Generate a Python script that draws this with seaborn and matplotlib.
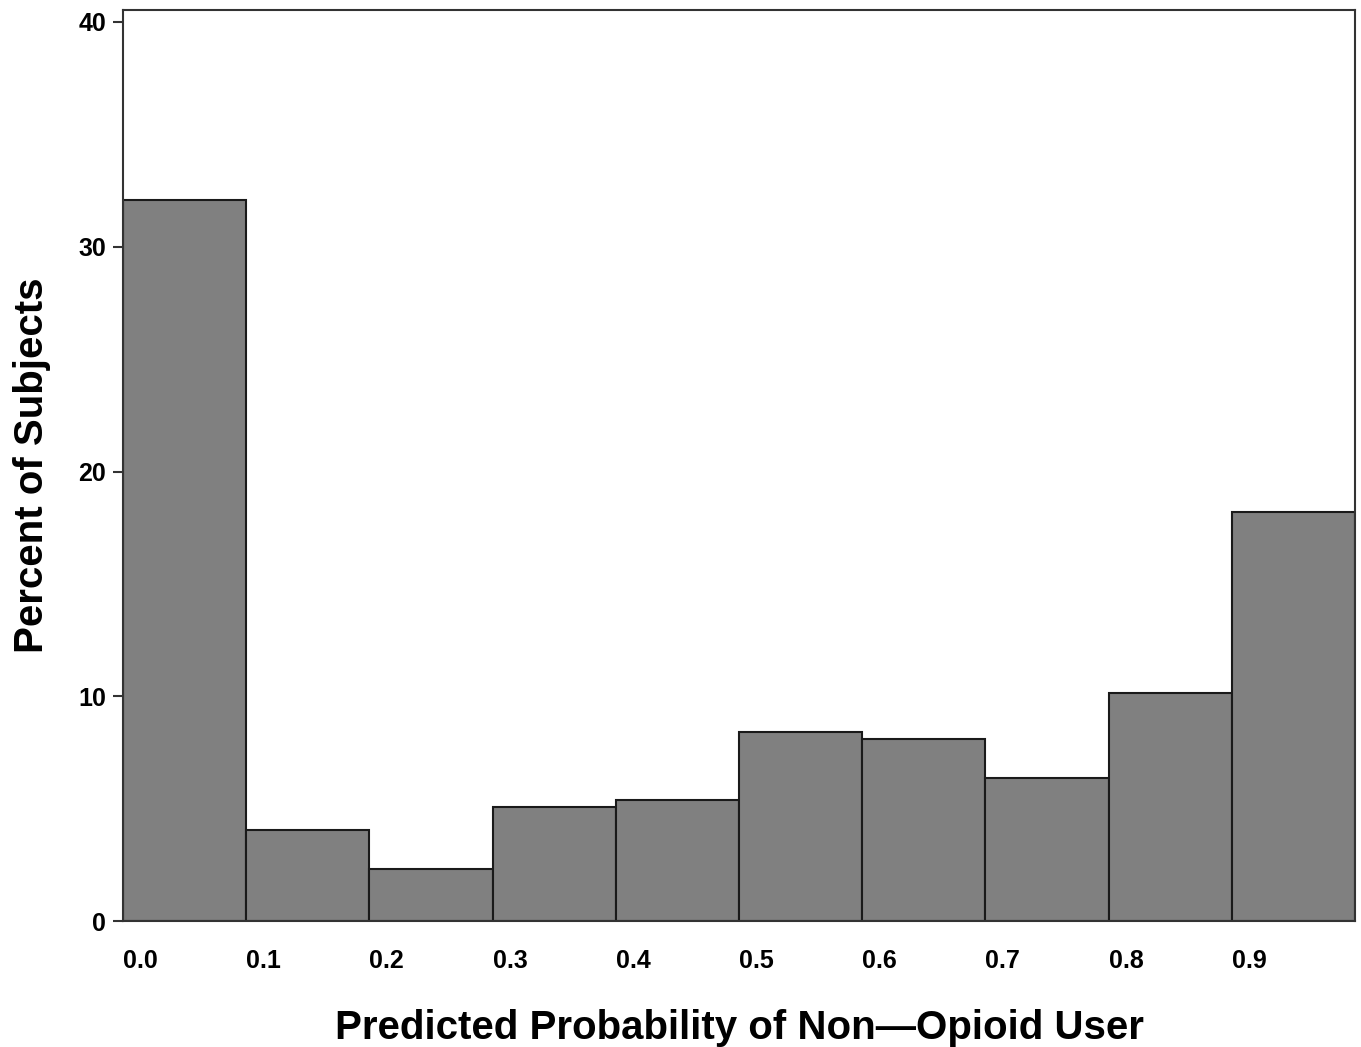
import numpy as np
import pandas as pd
import matplotlib
matplotlib.use("Agg")
import matplotlib.pyplot as plt
import seaborn as sns

bin_starts = [0.0, 0.1, 0.2, 0.3, 0.4, 0.5, 0.6, 0.7, 0.8, 0.9]
percent = [32.1, 4.05, 2.3, 5.08, 5.39, 8.42, 8.1, 6.37, 10.16, 18.2]
x_tick_labels = ["0.0", "0.1", "0.2", "0.3", "0.4", "0.5", "0.6", "0.7", "0.8", "0.9"]
y_ticks = [0, 10, 20, 30, 40]

sns.set_theme(style="white")
plt.rcParams['font.family'] = ['Liberation Sans', 'DejaVu Sans']

df = pd.DataFrame({"mid": np.array(bin_starts) + 0.05, "pct": percent})
edges = list(bin_starts) + [1.0]

fig = plt.figure(figsize=(13.61, 10.47), dpi=100)
ax = fig.add_axes([0.0904, 0.1203, 0.9052, 0.8701])
sns.histplot(data=df, x="mid", weights="pct", bins=edges, ax=ax,
             color="#808080", alpha=1.0, edgecolor="#1a1a1a", linewidth=1.5)

ax.set_xlim(0, 1.0)
ax.set_ylim(0, 40.53)
ax.set_xticks(bin_starts)
ax.set_xticklabels(x_tick_labels, ha="left", fontsize=18, fontweight="bold", color="black")
ax.set_yticks(y_ticks)
ax.set_yticklabels([str(v) for v in y_ticks], fontsize=18, fontweight="bold", color="black")
ax.tick_params(axis="x", length=0, pad=20)
ax.tick_params(axis="y", length=7, width=1.5, color="#333333", pad=5, left=True)
for s in ax.spines.values():
    s.set_color("#333333")
    s.set_linewidth(1.5)
ax.set_xlabel("Predicted Probability of Non\u2014Opioid User", fontsize=29,
              fontweight="bold", color="black", labelpad=26)
ax.set_ylabel("Percent of Subjects", fontsize=29, fontweight="bold",
              color="black", labelpad=20)

fig.savefig("out.png", dpi=100)
